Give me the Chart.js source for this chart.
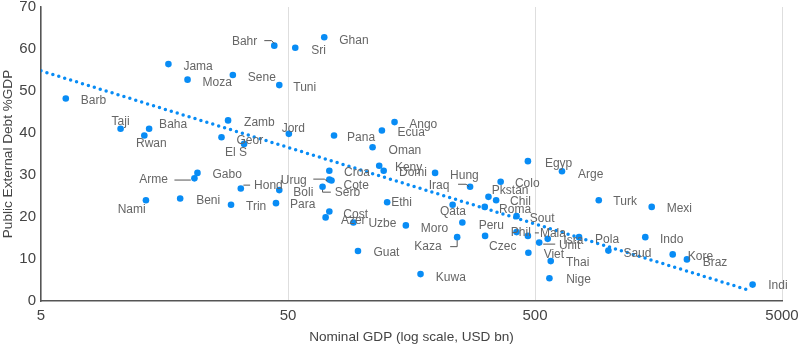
<!DOCTYPE html>
<html>
<head>
<meta charset="utf-8">
<script src="https://cdn.jsdelivr.net/npm/chart.js@4"></script>
<style>
  html, body { margin: 0; padding: 0; background: #fff; }
  canvas { display: block; }
</style>
</head>
<body>
<canvas id="c" width="800" height="345"></canvas>
<script>
// Country codes (first letters), nominal GDP in USD bn and public external debt in % of GDP
const countries = [
  'Barb','Jama','Moza','Sene','Taji','Rwan','Baha','Zamb','Geor','El S',
  'Jord','Bahr','Sri','Ghan','Tuni','Pana','Ecua','Ango','Oman','Keny',
  'Domi','Hung','Iraq','Colo','Pkstan','Chil','Roma','Sout','Phil','Mala',
  'Unit','Isra','Viet','Thai','Nige','Pola','Saud','Egyp','Arge','Turk',
  'Mexi','Indo','Kore','Braz','Indi','Qata','Peru','Czec','Kaza','Moro',
  'Kuwa','Guat','Uzbe','Cost','Azer','Ethi','Croa','Urug','Cote','Boli',
  'Serb','Hond','Para','Trin','Arme','Gabo','Beni','Nami'
];
const gdpUsdBn = [
  6.3, 16.4, 19.6, 29.9, 10.5, 13.1, 13.7, 28.6, 26.9, 33.2,
  50.4, 44.0, 53.5, 70.1, 46.1, 76.8, 120, 135, 110, 117,
  122, 197, 273, 363, 324, 348, 313, 421, 421, 468,
  520, 563, 470, 579, 572, 754, 991, 468, 643, 906,
  1484, 1398, 1805, 2061, 3802, 232, 254, 314, 242, 150,
  172, 96, 92, 73.5, 71, 126, 73.5, 73.5, 75, 46.1,
  69, 32.2, 44.7, 29.4, 20.9, 21.5, 18.3, 13.3
];
const debtPctGdp = [
  48.2, 56.4, 52.7, 53.8, 41.0, 39.4, 41.0, 43.0, 39.0, 37.4,
  39.8, 60.8, 60.3, 62.8, 51.4, 39.4, 40.6, 42.6, 36.6, 32.2,
  31.0, 30.5, 27.2, 28.4, 24.8, 24.0, 22.4, 20.2, 16.4, 15.5,
  13.9, 14.8, 11.5, 9.5, 5.4, 15.2, 12.0, 33.3, 30.9, 24.0,
  22.4, 15.2, 11.1, 9.9, 3.9, 22.9, 18.7, 15.5, 15.2, 18.0,
  6.4, 11.9, 18.7, 21.3, 19.9, 23.5, 31.0, 28.9, 28.7, 26.4,
  27.2, 26.8, 23.3, 22.9, 29.2, 30.5, 24.4, 24.0
];

// Fitted trend (debt vs log GDP), end points
const trendGdp = [5, 3700];
const trendDebt = [54.8, 2.5];

// Axis ticks
const xTicks = [5, 50, 500, 5000];
const yTicks = [0, 10, 20, 30, 40, 50, 60, 70];

// Label placement relative to each dot: [dx, dy, textAlign]
const labelPlacement = {
  'Barb': [15, 2, 'left'], 'Jama': [15, 3, 'left'], 'Moza': [15, 3, 'left'],
  'Sene': [15, 3, 'left'], 'Taji': [0, -7, 'center'], 'Rwan': [7, 8, 'center'],
  'Baha': [10, -4.5, 'left'], 'Zamb': [16, 2, 'left'], 'Geor': [15, 3, 'left'],
  'El S': [-8, 9, 'center'], 'Jord': [4.5, -5.5, 'center'], 'Bahr': [-17, -3.5, 'right'],
  'Sri': [16, 3, 'left'], 'Ghan': [15, 3.4, 'left'], 'Tuni': [14, 2.3, 'left'],
  'Pana': [13, 2, 'left'], 'Ecua': [15.7, 2, 'left'], 'Ango': [14.7, 3, 'left'],
  'Oman': [16, 3.4, 'left'], 'Keny': [15.7, 2, 'left'], 'Domi': [15.3, 1.7, 'left'],
  'Hung': [15, 2.7, 'left'], 'Iraq': [-20.7, -1, 'right'], 'Colo': [14.3, 1.6, 'left'],
  'Pkstan': [3.4, -5.7, 'left'], 'Chil': [14, 1.7, 'left'], 'Roma': [14.3, 2.6, 'left'],
  'Sout': [13.3, 3, 'left'], 'Phil': [-5.7, 0.7, 'left'], 'Mala': [12, -2, 'left'],
  'Unit': [19.7, 3, 'left'], 'Isra': [15.6, 2, 'left'], 'Viet': [15.3, 2.3, 'left'],
  'Thai': [15.3, 1.3, 'left'], 'Nige': [16.7, 1.7, 'left'], 'Pola': [16, 2.7, 'left'],
  'Saud': [15, 3.3, 'left'], 'Egyp': [17, 3, 'left'], 'Arge': [16, 3, 'left'],
  'Turk': [14.6, 1.7, 'left'], 'Mexi': [15, 2, 'left'], 'Indo': [14.7, 2.7, 'left'],
  'Kore': [15, 2.4, 'left'], 'Braz': [15.7, 3, 'left'], 'Indi': [15.6, 1.3, 'left'],
  'Qata': [0.3, 6.7, 'center'], 'Peru': [16.3, 3, 'left'], 'Czec': [4, 11, 'left'],
  'Kaza': [-15.6, 10, 'right'], 'Moro': [15, 3.3, 'left'], 'Kuwa': [15.3, 3.4, 'left'],
  'Guat': [15.4, 2, 'left'], 'Uzbe': [15, 1.7, 'left'], 'Cost': [14, 3, 'left'],
  'Azer': [15.3, 3.7, 'left'], 'Ethi': [4, 0, 'left'], 'Croa': [14.7, 2.3, 'left'],
  'Urug': [-22.6, 1.3, 'right'], 'Cote': [12, 5, 'left'], 'Boli': [14, 2.7, 'left'],
  'Serb': [12.3, 5.7, 'left'], 'Hond': [13.3, -2.3, 'left'], 'Para': [14, 1.7, 'left'],
  'Trin': [15, 2, 'left'], 'Arme': [-26.6, 1.7, 'right'], 'Gabo': [15, 2, 'left'],
  'Beni': [16, 2.4, 'left'], 'Nami': [-0.3, 9, 'right']
};

// Leader lines for labels set away from their dot (offsets from the dot)
const leaderLines = {
  'Bahr': [[-10, -5], [-2.6, -5], [0, -2]],
  'Iraq': [[-12, -2.5], [-4, -2.5], [-1, 0]],
  'Mala': [[7, -3], [11, -3]],
  'Unit': [[4, 1.5], [16, 1.5]],
  'Kaza': [[-7, 9.5], [0, 9.5], [0, 3]],
  'Urug': [[-16, -0.5], [-5, -0.5], [-2, 1.5]],
  'Serb': [[0, 3], [0, 5.4], [8.3, 5.4]],
  'Hond': [[2.6, -3.3], [9.3, -3.3]],
  'Arme': [[-20, 1.7], [-3.6, 1.7]]
};

const BLUE = 'rgb(8, 140, 245)';
const FONT = '"Liberation Sans", Arial, sans-serif';

const labelPlugin = {
  id: 'countryLabels',
  afterDatasetsDraw(chart) {
    const ctx = chart.ctx;
    const meta = chart.getDatasetMeta(1);
    ctx.save();
    ctx.font = '12px ' + FONT;
    ctx.fillStyle = '#666';
    ctx.strokeStyle = '#555';
    ctx.lineWidth = 1;
    ctx.textBaseline = 'middle';
    meta.data.forEach((pt, i) => {
      const name = countries[i];
      const [dx, dy, align] = labelPlacement[name] || [15, 2, 'left'];
      ctx.textAlign = align;
      ctx.fillText(name, pt.x + dx, pt.y + dy);
      const ld = leaderLines[name];
      if (ld) {
        ctx.beginPath();
        ld.forEach(([lx, ly], k) => {
          if (k === 0) ctx.moveTo(pt.x + lx, pt.y + ly);
          else ctx.lineTo(pt.x + lx, pt.y + ly);
        });
        ctx.stroke();
      }
    });
    ctx.restore();
  }
};

new Chart(document.getElementById('c'), {
  type: 'scatter',
  data: {
    datasets: [
      {
        label: 'Trend',
        data: trendGdp.map((g, i) => ({ x: g, y: trendDebt[i] })),
        showLine: true,
        borderColor: BLUE,
        borderWidth: 3.5,
        borderDash: [0, 6.2],
        borderCapStyle: 'round',
        pointRadius: 0,
        fill: false
      },
      {
        label: 'Countries',
        data: gdpUsdBn.map((g, i) => ({ x: g, y: debtPctGdp[i] })),
        backgroundColor: BLUE,
        borderColor: BLUE,
        borderWidth: 0,
        pointRadius: 3.3
      }
    ]
  },
  options: {
    responsive: false,
    animation: false,
    layout: { padding: { top: 7, right: 18, left: 0, bottom: 0 } },
    plugins: {
      legend: { display: false },
      tooltip: { enabled: false }
    },
    scales: {
      x: {
        type: 'logarithmic',
        min: 5,
        max: 5000,
        afterBuildTicks: (s) => { s.ticks = xTicks.map(v => ({ value: v })); },
        afterFit: (s) => { s.height = 44; s.paddingLeft = 0; s.paddingRight = 0; },
        ticks: {
          color: '#444',
          font: { family: FONT, size: 15 },
          padding: 6,
          maxRotation: 0,
          callback: (v) => String(v)
        },
        grid: { color: '#dedede', lineWidth: 1, drawTicks: false },
        border: { display: true, color: '#555', width: 1.5 },
        title: {
          display: true,
          text: 'Nominal GDP (log scale, USD bn)',
          color: '#444',
          font: { family: FONT, size: 13.6 },
          padding: { top: 5, bottom: 0 }
        }
      },
      y: {
        min: 0,
        max: 70,
        afterBuildTicks: (s) => { s.ticks = yTicks.map(v => ({ value: v })); },
        afterFit: (s) => { s.width = 41; s.paddingTop = 0; s.paddingBottom = 0; },
        ticks: {
          color: '#444',
          font: { family: FONT, size: 15, lineHeight: 1 },
          padding: 5
        },
        grid: { display: false, drawTicks: false },
        border: { display: true, color: '#555', width: 1.5 },
        title: {
          display: true,
          text: 'Public External Debt %GDP',
          color: '#444',
          font: { family: FONT, size: 13.6 },
          padding: { top: 0, bottom: 0 }
        }
      }
    }
  },
  plugins: [labelPlugin]
});
</script>
</body>
</html>
